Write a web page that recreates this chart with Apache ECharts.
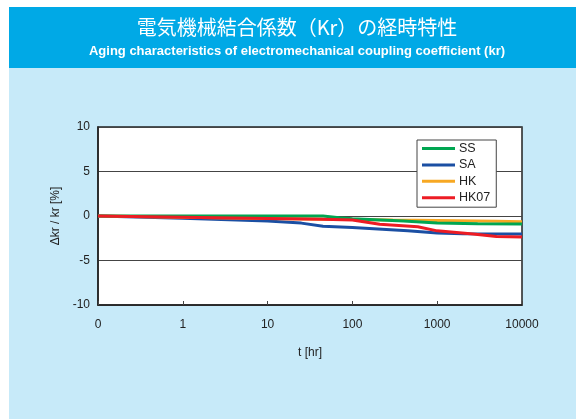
<!DOCTYPE html>
<html>
<head>
<meta charset="utf-8">
<script src="https://cdn.jsdelivr.net/npm/echarts@6/dist/echarts.min.js"></script>
<style>
html,body{margin:0;padding:0;background:#fff;}
#c{width:576px;height:419px;}
</style>
</head>
<body>
<div id="c"></div>
<script>
// ---- data (t in hours, Δkr/kr in %) ----
const tickLabels = ['0', '1', '10', '100', '1000', '10000'];
const seriesNames = ['SS', 'SA', 'HK', 'HK07'];
const ssData = [[0, 0], [1, 0], [10, 0], [45, 0], [70, -0.2], [100, -0.3], [400, -0.55], [1000, -0.8], [3000, -0.88], [10000, -0.9]];
const saData = [[0, 0], [1, -0.25], [10, -0.55], [25, -0.8], [45, -1.15], [100, -1.3], [450, -1.65], [1000, -1.9], [2000, -2.0], [10000, -2.03]];
const hkData = [[0, 0], [1, -0.15], [10, -0.28], [45, -0.36], [100, -0.4], [300, -0.45], [1000, -0.5], [5000, -0.6], [10000, -0.65]];
const hk07Data = [[0, 0], [1, -0.15], [10, -0.28], [45, -0.36], [100, -0.44], [210, -0.93], [590, -1.2], [1000, -1.67], [2650, -2.03], [5000, -2.3], [10000, -2.35]];
const colors = {SS: '#00a651', SA: '#1b4fa3', HK: '#f7a823', HK07: '#ed1c24'};

function tx(t) { return t === 0 ? 0 : Math.log10(t) + 1; }
function conv(arr) { return arr.map(p => [tx(p[0]), p[1]]); }

const chart = echarts.init(document.getElementById('c'), null, {renderer: 'canvas'});
const font = '"Liberation Sans", Arial, sans-serif';

function mk(name, data, z) {
  return {
    name: name, type: 'line', data: conv(data), showSymbol: false, symbol: 'none',
    lineStyle: {width: 3, color: colors[name]}, itemStyle: {color: colors[name]},
    z: z, animation: false
  };
}

chart.setOption({
  animation: false,
  textStyle: {fontFamily: font},
  graphic: [
    {type: 'rect', z: -100, shape: {x: 9, y: 7, width: 567, height: 61}, style: {fill: '#00a9e6'}},
    {type: 'rect', z: -100, shape: {x: 9, y: 68, width: 567, height: 351}, style: {fill: '#c7eaf9'}}
  ],
  title: [
    {text: '電気機械結合係数（Kr）の経時特性', left: 292, top: 12, textAlign: 'center',
     textStyle: {color: '#fff', fontSize: 20, fontWeight: 'normal', fontFamily: '"Noto Sans CJK JP", sans-serif'}},
    {text: 'Aging characteristics of electromechanical coupling coefficient (kr)', left: 292, top: 40, textAlign: 'center',
     textStyle: {color: '#fff', fontSize: 13, fontWeight: 'bold', fontFamily: font}}
  ],
  grid: {left: 98, right: 54, top: 127, bottom: 114, show: true, backgroundColor: '#fff', borderColor: '#222', borderWidth: 1.5},
  legend: {
    data: seriesNames, orient: 'vertical', left: 417, top: 140,
    backgroundColor: '#fff', borderColor: '#444', borderWidth: 1,
    padding: [2, 6, 3, 5], itemWidth: 33, itemHeight: 3, itemGap: 3.4, icon: 'rect',
    textStyle: {fontSize: 12.5, color: '#222', fontFamily: font, padding: [0, 0, 0, -1]}
  },
  xAxis: {
    type: 'value', min: 0, max: 5, interval: 1,
    name: 't [hr]', nameLocation: 'middle', nameGap: 42,
    nameTextStyle: {fontSize: 12, color: '#222', fontFamily: font},
    axisLine: {show: true, onZero: false, lineStyle: {color: '#222', width: 1.5}},
    axisTick: {show: true, inside: true, length: 4, lineStyle: {color: '#444'}},
    axisLabel: {formatter: v => tickLabels[Math.round(v)], fontSize: 12, color: '#222', margin: 14, fontFamily: font},
    splitLine: {show: false}
  },
  yAxis: {
    type: 'value', min: -10, max: 10, interval: 5,
    name: 'Δkr / kr [%]', nameLocation: 'middle', nameGap: 36, nameRotate: 90,
    nameTextStyle: {fontSize: 12, color: '#222', fontFamily: font},
    axisLine: {show: true, onZero: false, lineStyle: {color: '#222', width: 1.5}},
    axisTick: {show: false},
    axisLabel: {fontSize: 12, color: '#222', margin: 8, fontFamily: font},
    splitLine: {show: true, lineStyle: {color: '#444', width: 1}}
  },
  series: [
    mk('SA', saData, 2),
    mk('HK', hkData, 3),
    mk('SS', ssData, 4),
    mk('HK07', hk07Data, 5)
  ]
});
</script>
</body>
</html>
